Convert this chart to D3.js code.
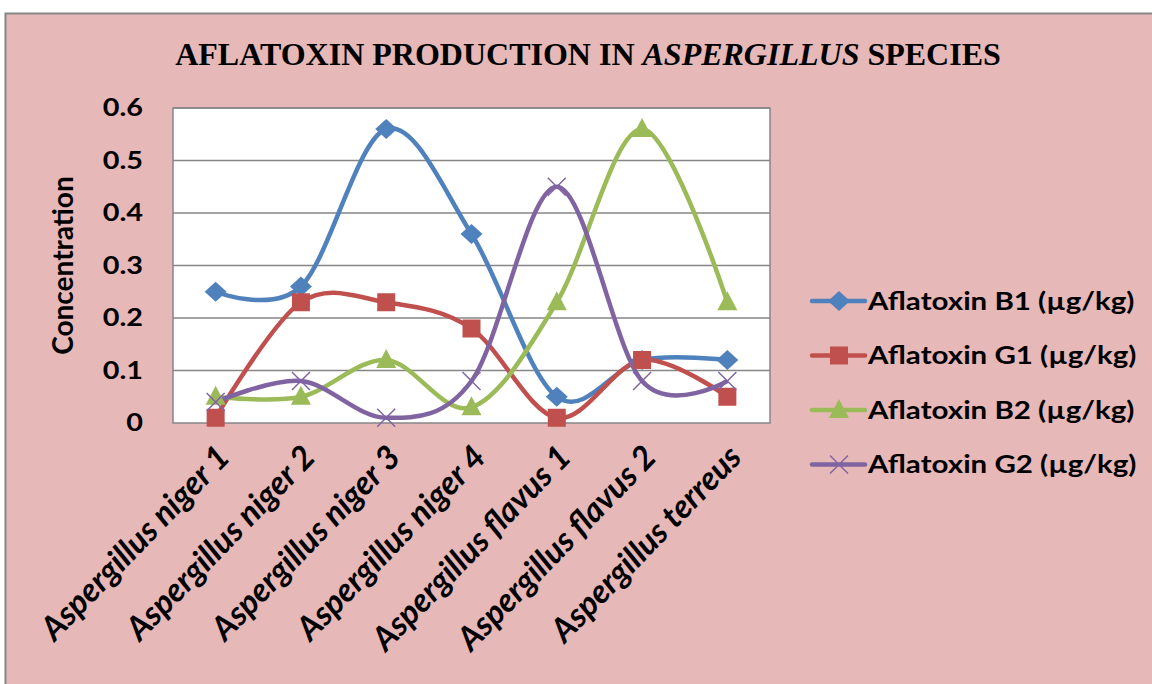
<!DOCTYPE html>
<html>
<head>
<meta charset="utf-8">
<script src="https://cdn.jsdelivr.net/npm/d3@7"></script>
<style>
  body { margin: 0; background: #fff; }
  svg { display: block; }
</style>
</head>
<body>
<div id="container"></div>
<script>
/* CONSTANTS AND GLOBALS */
const width = 1152,
  height = 684,
  margin = { top: 108, bottom: 261, left: 173, right: 382 };

/* DATA */
const species = ["Aspergillus niger 1", "Aspergillus niger 2", "Aspergillus niger 3",
  "Aspergillus niger 4", "Aspergillus flavus 1", "Aspergillus flavus 2", "Aspergillus terreus"];
const b1 = [0.25, 0.26, 0.56, 0.36, 0.05, 0.12, 0.12];
const g1 = [0.01, 0.23, 0.23, 0.18, 0.01, 0.12, 0.05];
const b2 = [0.05, 0.05, 0.12, 0.03, 0.23, 0.56, 0.23];
const g2 = [0.04, 0.08, 0.01, 0.08, 0.45, 0.08, 0.08];
const yTicks = [0, 0.1, 0.2, 0.3, 0.4, 0.5, 0.6];

const series = [
  { name: "Aflatoxin B1 (µg/kg)", values: b1, color: "#4F81BD", symbol: "diamond" },
  { name: "Aflatoxin G1 (µg/kg)", values: g1, color: "#C0504D", symbol: "square" },
  { name: "Aflatoxin B2 (µg/kg)", values: b2, color: "#9BBB59", symbol: "triangle" },
  { name: "Aflatoxin G2 (µg/kg)", values: g2, color: "#8064A2", symbol: "cross" }
];

// SCALES
const xScale = d3.scaleBand()
  .domain(species)
  .range([margin.left, width - margin.right]);

const yScale = d3.scaleLinear()
  .domain([0, 0.6])
  .range([height - margin.bottom, margin.top]);

const cx = d => xScale(d) + xScale.bandwidth() / 2;

// SVG
const svg = d3.select("#container")
  .append("svg")
  .attr("width", width)
  .attr("height", height);

// chart area
svg.append("rect")
  .attr("x", 5.5).attr("y", 13.5)
  .attr("width", width).attr("height", height)
  .attr("fill", "#E6B8B7")
  .attr("stroke", "#868686")
  .attr("stroke-width", 2);

// title
const title = svg.append("text")
  .attr("x", 588).attr("y", 65)
  .attr("text-anchor", "middle")
  .attr("font-family", "'Liberation Serif', 'Times New Roman', serif")
  .attr("font-weight", "bold")
  .attr("font-size", 32)
  .attr("fill", "#000");
title.append("tspan").text("AFLATOXIN PRODUCTION IN ");
title.append("tspan").attr("font-style", "italic").text("ASPERGILLUS");
title.append("tspan").text(" SPECIES");

// plot area
svg.append("rect")
  .attr("x", margin.left).attr("y", margin.top)
  .attr("width", width - margin.left - margin.right)
  .attr("height", height - margin.top - margin.bottom)
  .attr("fill", "#fff")
  .attr("stroke", "#868686")
  .attr("stroke-width", 1.5);

// gridlines
svg.append("g")
  .selectAll("line")
  .data(yTicks.slice(1))
  .join("line")
  .attr("x1", margin.left).attr("x2", width - margin.right)
  .attr("y1", d => yScale(d)).attr("y2", d => yScale(d))
  .attr("stroke", "#868686")
  .attr("stroke-width", 1.5);

// AXES
const font = "Lato, 'Open Sans', sans-serif";
const stretch = 1.2;
const yAxis = d3.axisLeft(yScale)
  .tickValues(yTicks)
  .tickFormat(d => d === 0 ? "0" : d3.format(".1f")(d))
  .tickSize(0);
const yAxisGroup = svg.append("g")
  .attr("transform", `translate(${margin.left}, 0)`)
  .call(yAxis);
yAxisGroup.select(".domain").remove();
yAxisGroup.selectAll("text")
  .attr("font-family", font)
  .attr("font-weight", "bold")
  .attr("font-size", 24)
  .attr("fill", "#000")
  .attr("x", -30 / stretch)
  .attr("transform", `scale(${stretch}, 1)`);

svg.append("text")
  .attr("transform", `translate(73, ${(margin.top + height - margin.bottom) / 2}) rotate(-90)`)
  .attr("text-anchor", "middle")
  .attr("font-family", font)
  .attr("font-weight", "bold")
  .attr("font-size", 28)
  .text("Concentration");

const xAxis = d3.axisBottom(xScale).tickSize(0).tickPadding(0);
const xAxisGroup = svg.append("g")
  .attr("transform", `translate(0, ${height - margin.bottom})`)
  .call(xAxis);
xAxisGroup.select(".domain").remove();
xAxisGroup.selectAll("text")
  .attr("font-family", font)
  .attr("font-weight", "bold")
  .attr("font-style", "italic")
  .attr("font-size", 33)
  .attr("fill", "#000")
  .attr("text-anchor", "end")
  .attr("dy", 0)
  .attr("transform", "translate(16, 36) rotate(-46)");

// LINES
const lineGen = d3.line()
  .x((d, i) => cx(species[i]))
  .y(d => yScale(d))
  .curve(d3.curveCatmullRom.alpha(0));

svg.selectAll(".trend")
  .data(series)
  .join("path")
  .attr("class", "trend")
  .attr("fill", "none")
  .attr("stroke", d => d.color)
  .attr("stroke-width", 4.5)
  .attr("stroke-linejoin", "round")
  .attr("d", d => lineGen(d.values));

// MARKERS
function drawMarker(g, sym, color) {
  if (sym === "diamond") {
    g.append("path").attr("d", "M0,-10L11,0L0,10L-11,0Z").attr("fill", color);
  } else if (sym === "square") {
    g.append("rect").attr("x", -9).attr("y", -9).attr("width", 18).attr("height", 18).attr("fill", color);
  } else if (sym === "triangle") {
    g.append("path").attr("d", "M0,-11L10,8L-10,8Z").attr("fill", color);
  } else {
    g.append("path").attr("d", "M-9,-9L9,9M-9,9L9,-9")
      .attr("stroke", color).attr("stroke-width", 1.5).attr("fill", "none");
  }
}

series.forEach(s => {
  svg.append("g").selectAll("g")
    .data(s.values)
    .join("g")
    .attr("transform", (d, i) => `translate(${cx(species[i])}, ${yScale(d)})`)
    .each(function () { drawMarker(d3.select(this), s.symbol, s.color); });
});

// LEGEND
const legend = svg.append("g")
  .selectAll("g")
  .data(series)
  .join("g")
  .attr("transform", (d, i) => `translate(812, ${301 + i * 54.5})`);
legend.append("line")
  .attr("x1", 0).attr("x2", 53)
  .attr("stroke", d => d.color)
  .attr("stroke-width", 4.5)
  .attr("stroke-linecap", "round");
legend.each(function (d) {
  const g = d3.select(this).append("g").attr("transform", "translate(27, 0)");
  drawMarker(g, d.symbol, d.color);
});
legend.append("text")
  .attr("transform", "translate(56, 0) scale(1.18, 1)")
  .attr("dy", "0.35em")
  .attr("font-family", font)
  .attr("font-weight", "bold")
  .attr("font-size", 25)
  .text(d => d.name);
</script>
</body>
</html>
